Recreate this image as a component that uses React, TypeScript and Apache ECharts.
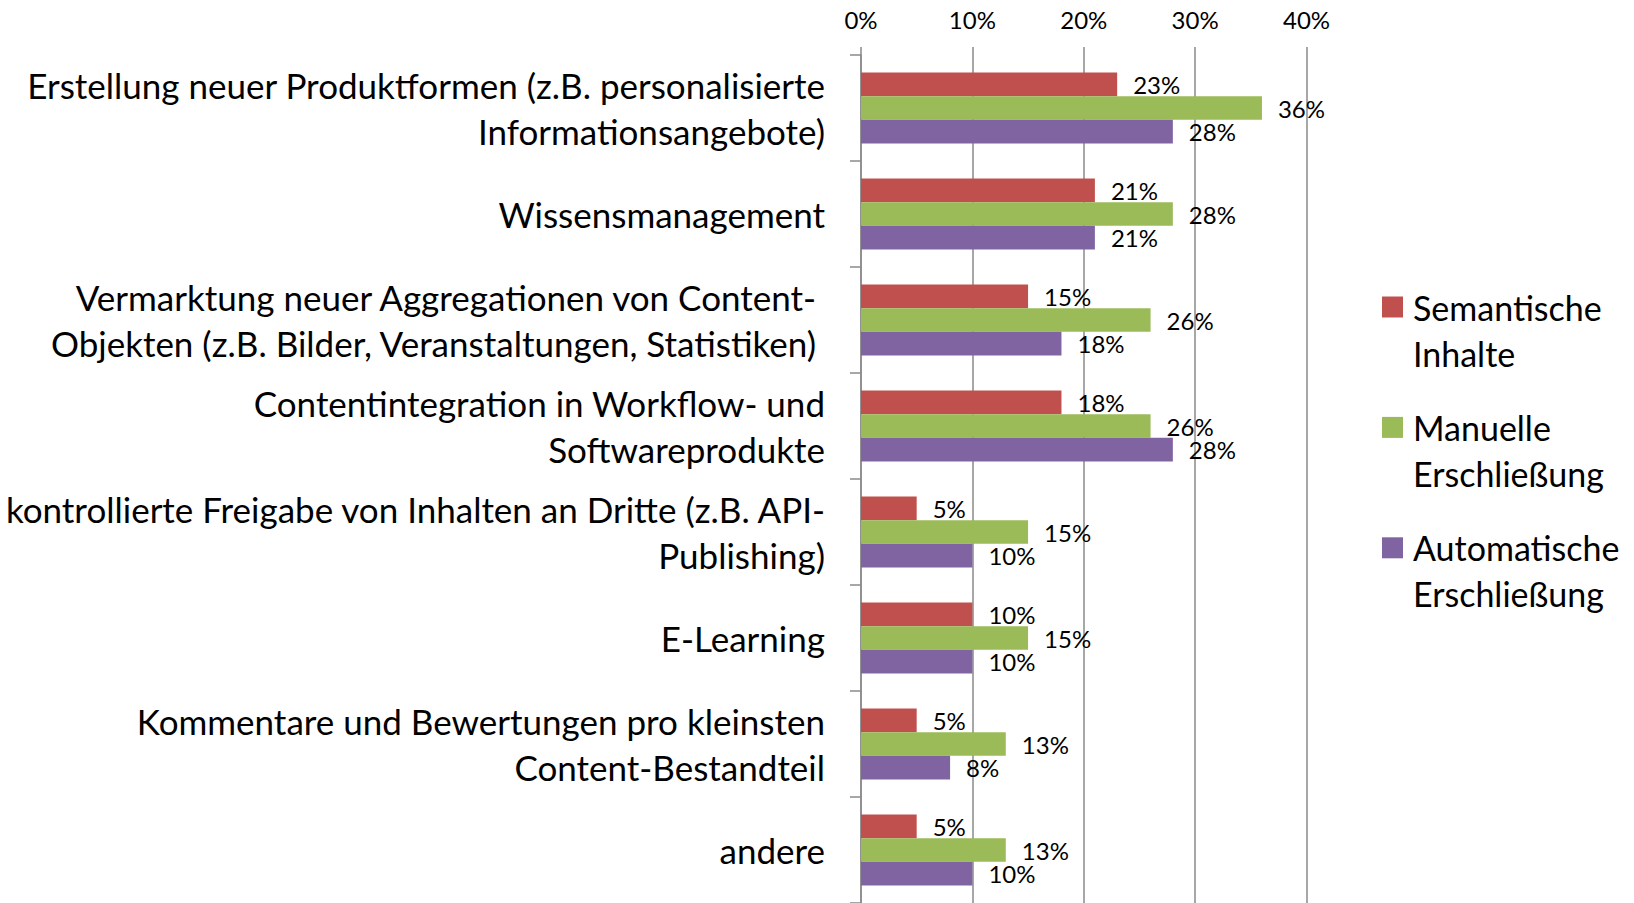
import React, { useEffect, useRef } from "react";
import * as echarts from "echarts";

const categories = [
  "Erstellung neuer Produktformen (z.B. personalisierte\nInformationsangebote)",
  "Wissensmanagement",
  "Vermarktung neuer Aggregationen von Content- \nObjekten (z.B. Bilder, Veranstaltungen, Statistiken) ",
  "Contentintegration in Workflow- und\nSoftwareprodukte",
  "kontrollierte Freigabe von Inhalten an Dritte (z.B. API-\nPublishing)",
  "E-Learning",
  "Kommentare und Bewertungen pro kleinsten\nContent-Bestandteil",
  "andere",
];

const seriesNames = [
  "Semantische\nInhalte",
  "Manuelle\nErschließung",
  "Automatische\nErschließung",
];

const semantischeInhalte = [23, 21, 15, 18, 5, 10, 5, 5];
const manuelleErschliessung = [36, 28, 26, 26, 15, 15, 13, 13];
const automatischeErschliessung = [28, 21, 18, 28, 10, 10, 8, 10];

const xTicks = [0, 10, 20, 30, 40];

const colors = ["#C0504D", "#9BBB59", "#8064A2"];

const FONT = "Lato, 'Open Sans', sans-serif";

export default function App() {
  const ref = useRef<HTMLDivElement>(null);

  useEffect(() => {
    if (!ref.current) return;
    const chart = echarts.init(ref.current, undefined, { renderer: "svg" });
    const values = [semantischeInhalte, manuelleErschliessung, automatischeErschliessung];
    const option = {
      animation: false,
      backgroundColor: "#ffffff",
      textStyle: { fontFamily: FONT, color: "#000" },
      grid: { left: 861, top: 55, width: 445.5, height: 850 },
      xAxis: {
        type: "value",
        position: "top",
        min: xTicks[0],
        max: xTicks[xTicks.length - 1],
        interval: 10,
        axisLine: { show: false },
        axisTick: { show: true, length: 8, lineStyle: { color: "#8a8a8a", width: 1.5 } },
        splitLine: { show: true, lineStyle: { color: "#8a8a8a", width: 1.5 } },
        axisLabel: {
          formatter: "{value}%",
          fontFamily: FONT,
          fontSize: 24,
          color: "#000",
          margin: 24,
        },
      },
      yAxis: {
        type: "category",
        inverse: true,
        data: categories,
        axisLine: { show: true, lineStyle: { color: "#8a8a8a", width: 1.5 } },
        axisTick: { show: true, length: 11, lineStyle: { color: "#8a8a8a", width: 1.5 } },
        splitLine: { show: false },
        axisLabel: {
          fontFamily: FONT,
          fontSize: 35,
          lineHeight: 46,
          color: "#000",
          margin: 36,
          align: "right",
          padding: [0, 0, 3, 0],
        },
      },
      legend: {
        orient: "vertical",
        left: 1382,
        top: 238,
        padding: 0,
        itemWidth: 21,
        itemHeight: 21,
        itemGap: -17.6,
        icon: "rect",
        selectedMode: false,
        formatter: (name: string) => "\n" + name,
        textStyle: {
          fontFamily: FONT,
          fontSize: 34,
          lineHeight: 46,
          color: "#000",
          padding: [0, 0, 0, 5],
        },
        data: seriesNames,
      },
      series: seriesNames.map((name, i) => ({
        name,
        type: "bar",
        data: values[i],
        barWidth: 23.7,
        barGap: "0%",
        itemStyle: { color: colors[i] },
        label: {
          show: true,
          position: "right",
          distance: 16,
          formatter: "{c}%",
          fontFamily: FONT,
          fontSize: 24,
          color: "#000",
        },
      })),
    };
    chart.setOption(option);
    return () => chart.dispose();
  }, []);

  return (
    <div
      ref={ref}
      style={{ position: "fixed", left: 0, top: 0, width: 1634, height: 903, background: "#fff" }}
    />
  );
}
